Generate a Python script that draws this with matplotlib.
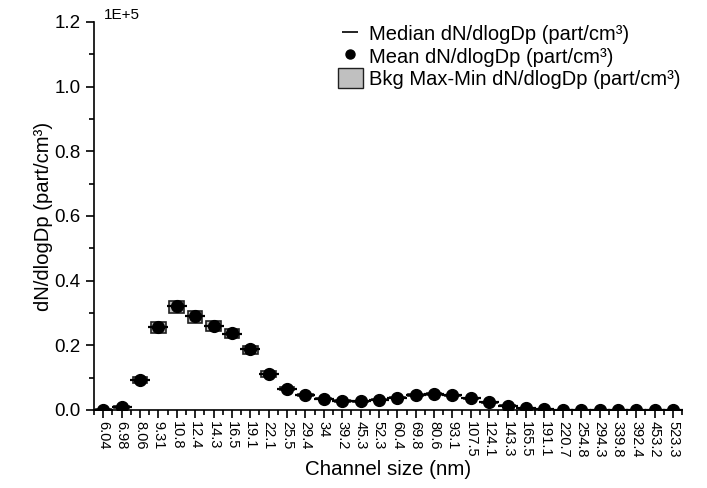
import matplotlib
matplotlib.use('Agg')
import matplotlib.pyplot as plt
from matplotlib.lines import Line2D
from matplotlib.patches import Patch
from matplotlib.ticker import MultipleLocator, FormatStrFormatter
import numpy as np

plt.rcParams['font.family'] = ['Liberation Sans', 'DejaVu Sans']

# Canais do SMPS (nm)
canais = ['6.04', '6.98', '8.06', '9.31', '10.8', '12.4', '14.3', '16.5', '19.1', '22.1',
          '25.5', '29.4', '34', '39.2', '45.3', '52.3', '60.4', '69.8', '80.6', '93.1',
          '107.5', '124.1', '143.3', '165.5', '191.1', '220.7', '254.8', '294.3', '339.8',
          '392.4', '453.2', '523.3']

# dN/dlogDp (part/cm3)
media = [50, 800, 9300, 25700, 32200, 29000, 26100, 23700, 18800, 11200,
         6600, 4700, 3500, 2800, 2700, 3200, 3800, 4600, 4900, 4500,
         3600, 2400, 1300, 500, 150, 60, 40, 30, 30, 30, 30, 30]
mediana = [40, 780, 9250, 25600, 32000, 28900, 26000, 23600, 18700, 11150,
           6550, 4650, 3480, 2780, 2680, 3180, 3780, 4580, 4880, 4480,
           3580, 2380, 1290, 490, 140, 55, 38, 28, 28, 28, 28, 28]
bkg_max = [200, 1100, 10200, 27100, 33800, 30500, 27400, 24900, 19800, 12100,
           7000, 5000, 3800, 3000, 2900, 3400, 4000, 4800, 5100, 4700,
           3800, 2600, 1450, 600, 220, 100, 70, 60, 60, 60, 60, 60]
bkg_min = [0, 550, 8300, 23800, 30000, 26900, 24400, 22200, 17400, 10200,
           6200, 4400, 3250, 2600, 2500, 3000, 3600, 4400, 4700, 4300,
           3400, 2250, 1150, 400, 80, 20, 10, 5, 5, 5, 5, 5]

escala = 1e5
x = np.arange(1, len(canais) + 1)
media = np.array(media) / escala
mediana = np.array(mediana) / escala
bkg_max = np.array(bkg_max) / escala
bkg_min = np.array(bkg_min) / escala

fig = plt.figure(figsize=(7.07, 4.88), dpi=100)
ax = fig.add_axes([0.133, 0.16, 0.832, 0.795])

ax.bar(x, bkg_max - bkg_min, bottom=bkg_min, width=0.8, color='#c0c0c0',
       edgecolor='#202020', linewidth=1.2, zorder=2)
ax.plot(x, mediana, linestyle='none', marker='_', markersize=14, mew=1.6,
        color='black', zorder=3)
ax.plot(x, media, linestyle='none', marker='o', markersize=8.5, color='black', zorder=4)

ax.set_xlim(0.5, len(canais) + 0.5)
ax.set_ylim(0, 1.2)
ax.set_xticks(x)
ax.set_xticklabels(canais, rotation=270, fontsize=10.5)
ax.xaxis.set_minor_locator(MultipleLocator(0.5))
ax.yaxis.set_major_locator(MultipleLocator(0.2))
ax.yaxis.set_minor_locator(MultipleLocator(0.1))
ax.yaxis.set_major_formatter(FormatStrFormatter('%.1f'))
ax.tick_params(axis='y', labelsize=13.5)
ax.tick_params(axis='x', pad=2)
ax.tick_params(which='major', direction='out', length=6, width=1.2)
ax.tick_params(which='minor', direction='out', length=3.5, width=1.2)
for lado in ['top', 'right']:
    ax.spines[lado].set_visible(False)
for lado in ['left', 'bottom']:
    ax.spines[lado].set_linewidth(1.2)

ax.set_xlabel('Channel size (nm)', fontsize=14.8, labelpad=2)
ax.set_ylabel('dN/dlogDp (part/cm³)', fontsize=14.6, labelpad=1)
ax.text(0.017, 1.0, '1E+5', transform=ax.transAxes, fontsize=11, va='bottom', ha='left')

handles = [Line2D([], [], linestyle='none', marker='_', markersize=12, mew=1.2, color='black'),
           Line2D([], [], linestyle='none', marker='o', markersize=6.5, color='black'),
           Patch(facecolor='#c0c0c0', edgecolor='#202020', linewidth=1.0)]
labels = ['Median dN/dlogDp (part/cm³)', 'Mean dN/dlogDp (part/cm³)',
          'Bkg Max-Min dN/dlogDp (part/cm³)']
ax.legend(handles, labels, loc='upper right', bbox_to_anchor=(1.0, 1.0), frameon=False,
          fontsize=14.5, handlelength=1.25, handleheight=1.1, handletextpad=0.3,
          labelspacing=0.08, borderaxespad=0.0, borderpad=0.1)

fig.savefig('out.png', dpi=100)
